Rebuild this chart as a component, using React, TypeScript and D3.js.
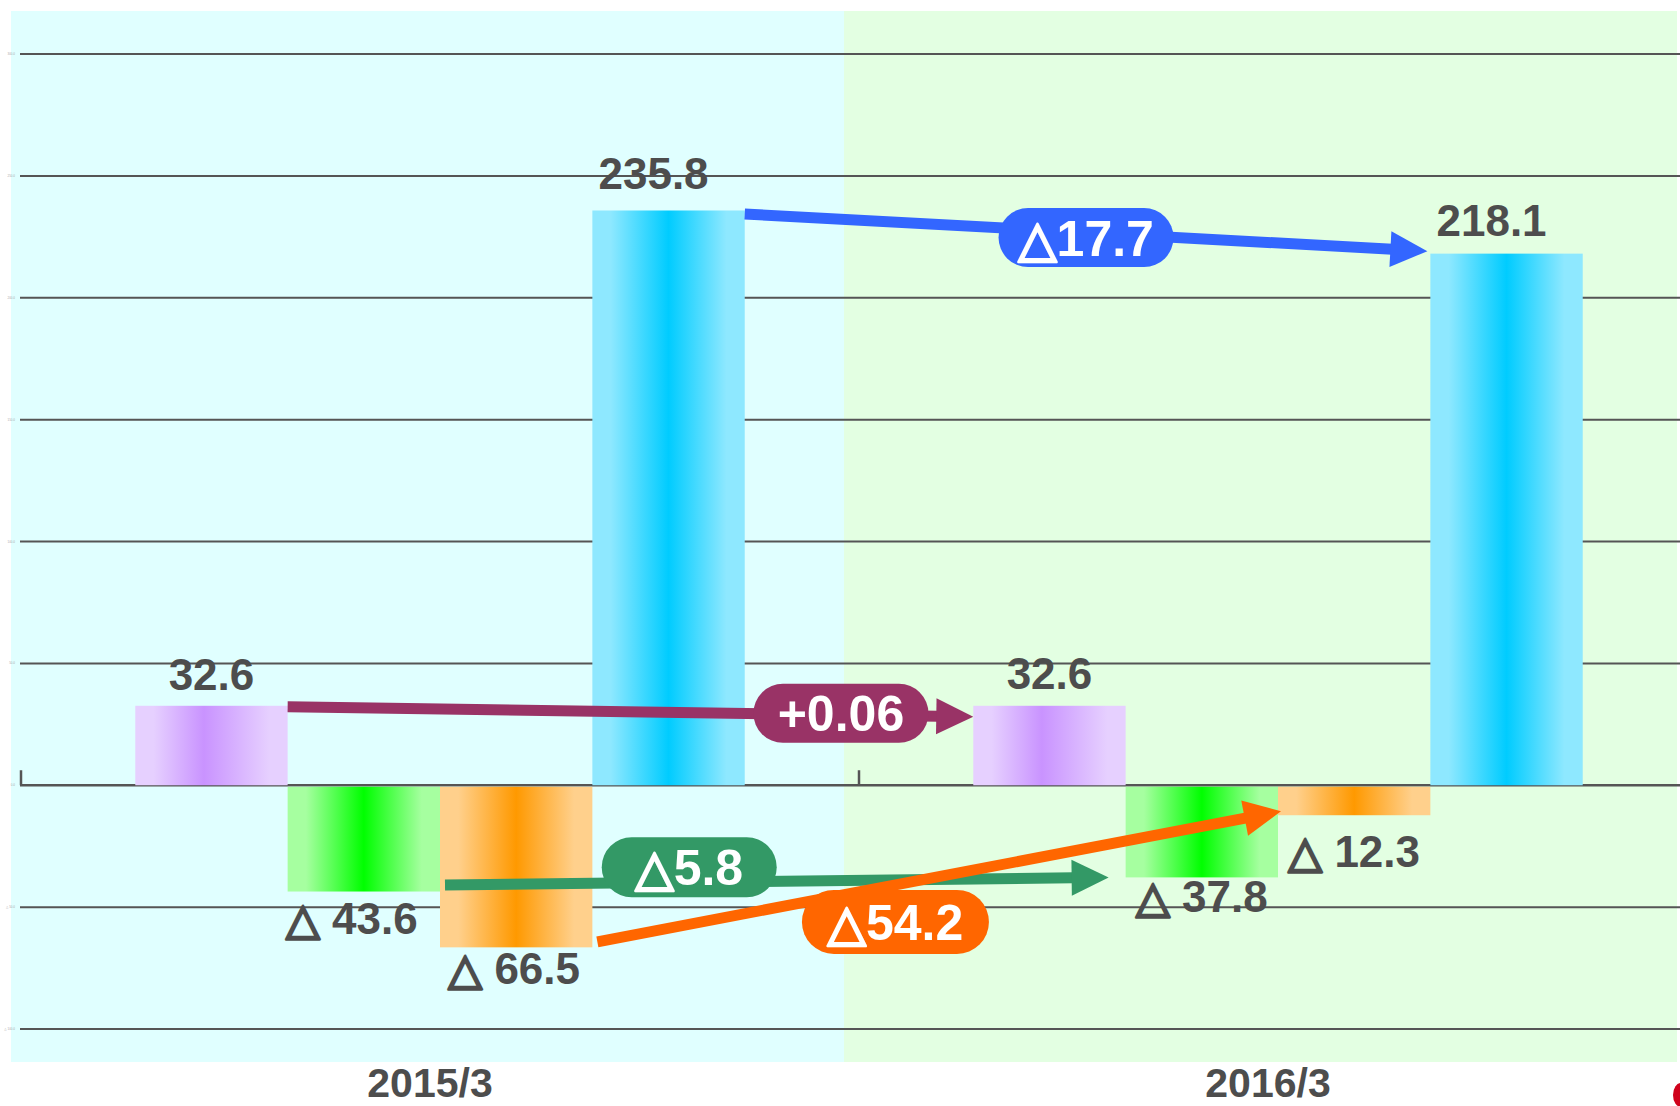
import React from "react";
import * as d3 from "d3";

// ---------- data ----------
const categories = ["2015/3", "2016/3"];
const seriesKeys = ["purple", "green", "orange", "blue"];
const values2015 = [32.6, -43.6, -66.5, 235.8];
const values2016 = [32.6, -37.8, -12.3, 218.1];
const changeLabels = ["+0.06", "△5.8", "△54.2", "△17.7"];
const yTicks = [-100, -50, 0, 50, 100, 150, 200, 250, 300];

// ---------- styles / layout ----------
const W = 1680;
const H = 1106;
const gradEdge = ["#E6D0FF", "#A6FFA0", "#FFD08C", "#8EE8FF"];
const gradMid = ["#C993FF", "#00FF00", "#FF9900", "#00CCFF"];
const gradMidPos = [0.45, 0.5, 0.5, 0.5];
const arrowColors = ["#993366", "#339966", "#FF6600", "#3366FF"];
const textColor = "#4D4D4D";
// value label offsets [dx, dy] per year, per series
const labelOffsets = [
  [[0, -16], [-12, 42], [-2, 37], [-15, -21]],
  [[0, -17], [0, 35], [0, 52], [-15, -18]],
];
// arrow endpoint offsets: [dxStart, dyStart, dxEnd, dyEnd]
const arrowOffsets = [
  [0, 1, 0, 11],
  [5, -6.5, -17, 0],
  [5, -5.5, 3, -4],
  [0, 3.5, -3, -2.5],
];
// pill: [t along arrow, dy from line, width, height]
const pillLayout = [
  [0.807, -1.5, 175, 59],
  [0.368, -15, 175, 60],
  [0.436, 37, 187, 64],
  [0.5, 5, 175, 59],
];

const x = d3.scaleBand<string>().domain(categories).range([21, 1697]);
const y = d3.scaleLinear().domain([-100, 300]).range([1029, 54]);
const bw = x.bandwidth() / 5.5;
const barX = (cat: string, i: number) => (x(cat) as number) + bw * (0.75 + i);

const fmt = (v: number) => (v < 0 ? "△ " + Math.abs(v).toFixed(1) : v.toFixed(1));

// render a label, thickening the triangle glyph so it looks bold
function LabelText({ s, color, sw }: { s: string; color: string; sw: number }) {
  if (s.startsWith("△")) {
    return (
      <>
        <tspan stroke={color} strokeWidth={sw} strokeLinejoin="round">
          △
        </tspan>
        <tspan>{s.slice(1)}</tspan>
      </>
    );
  }
  return <>{s}</>;
}

function Arrow({ i }: { i: number }) {
  const [dxs, dys, dxe, dye] = arrowOffsets[i];
  const x1 = barX(categories[0], i) + bw + dxs;
  const y1 = y(values2015[i]) + dys;
  const x2 = barX(categories[1], i) + dxe;
  const y2 = y(values2016[i]) + dye;
  const ang = Math.atan2(y2 - y1, x2 - x1);
  const hl = 37;
  const hw = 18;
  const bx = x2 - hl * Math.cos(ang);
  const by = y2 - hl * Math.sin(ang);
  const nx = -Math.sin(ang);
  const ny = Math.cos(ang);
  const head = `M${x2},${y2}L${bx + nx * hw},${by + ny * hw}L${bx - nx * hw},${by - ny * hw}Z`;
  const [t, pdy, pw, ph] = pillLayout[i];
  const px = x1 + (x2 - x1) * t;
  const py = y1 + (y2 - y1) * t + pdy;
  const c = arrowColors[i];
  return (
    <g>
      <line x1={x1} y1={y1} x2={bx + Math.cos(ang) * 2} y2={by + Math.sin(ang) * 2} stroke={c} strokeWidth={11} />
      <path d={head} fill={c} />
      <rect x={px - pw / 2} y={py - ph / 2} width={pw} height={ph} rx={ph / 2} ry={ph / 2} fill={c} />
      <text
        x={px}
        y={py + 18}
        textAnchor="middle"
        fill="#FFFFFF"
        fontSize={50}
        fontWeight="bold"
        fontFamily="'Liberation Sans', Arial, 'DejaVu Sans', sans-serif"
      >
        <LabelText s={changeLabels[i]} color="#FFFFFF" sw={2.5} />
      </text>
    </g>
  );
}

export default function App() {
  const allValues = [values2015, values2016];
  const zero = y(0);
  return (
    <svg
      width={W}
      height={H}
      style={{ position: "absolute", left: 0, top: 0, background: "#FFFFFF" }}
      fontFamily="'Liberation Sans', Arial, 'DejaVu Sans', sans-serif"
    >
      <defs>
        {seriesKeys.map((k, i) => (
          <linearGradient key={k} id={`g-${k}`} x1="0" x2="1" y1="0" y2="0">
            <stop offset="0" stopColor={gradEdge[i]} />
            <stop offset="0.12" stopColor={gradEdge[i]} />
            <stop offset={gradMidPos[i]} stopColor={gradMid[i]} />
            <stop offset="0.88" stopColor={gradEdge[i]} />
            <stop offset="1" stopColor={gradEdge[i]} />
          </linearGradient>
        ))}
      </defs>
      {/* background panels */}
      <rect x={11} y={11} width={833} height={1051} fill="#E0FFFF" />
      <rect x={844} y={11} width={833} height={1051} fill="#E3FFE2" />

      {/* gridlines */}
      {yTicks.map((t) => (
        <g key={t}>
          <line x1={20} x2={W} y1={y(t)} y2={y(t)} stroke="#555555" strokeWidth={t === 0 ? 2.5 : 2} />
          <text x={15} y={y(t) + 1} textAnchor="end" fontSize={3} fill="#AAAAAA">
            {fmt(t)}
          </text>
        </g>
      ))}
      {/* category ticks */}
      {categories.map((c) => (
        <line key={c} x1={x(c) as number} x2={x(c) as number} y1={zero - 15} y2={zero} stroke="#555555" strokeWidth={2.5} />
      ))}

      {/* bars */}
      {categories.map((cat, ci) =>
        allValues[ci].map((v, i) => (
          <rect
            key={cat + i}
            x={barX(cat, i)}
            y={Math.min(y(v), zero + (v < 0 ? 1.5 : 0))}
            width={bw}
            height={Math.abs(y(v) - zero) - (v < 0 ? 1.5 : 0)}
            fill={`url(#g-${seriesKeys[i]})`}
          />
        ))
      )}

      {/* value labels */}
      {categories.map((cat, ci) =>
        allValues[ci].map((v, i) => (
          <text
            key={"l" + cat + i}
            x={barX(cat, i) + bw / 2 + labelOffsets[ci][i][0]}
            y={y(v) + labelOffsets[ci][i][1]}
            textAnchor="middle"
            fontSize={44}
            fontWeight="bold"
            fill={textColor}
          >
            <LabelText s={fmt(v)} color={textColor} sw={2.5} />
          </text>
        ))
      )}

      {/* arrows */}
      {[0, 3, 1, 2].map((i) => (
        <Arrow key={i} i={i} />
      ))}

      {/* category labels */}
      {categories.map((c) => (
        <text
          key={"c" + c}
          x={(x(c) as number) + x.bandwidth() / 2 - 10}
          y={1097}
          textAnchor="middle"
          fontSize={41}
          fontWeight="bold"
          fill={textColor}
        >
          {c}
        </text>
      ))}

      {/* small logo at corner */}
      <ellipse cx={1681} cy={1095} rx={8} ry={12} fill="#D0021B" />
    </svg>
  );
}
